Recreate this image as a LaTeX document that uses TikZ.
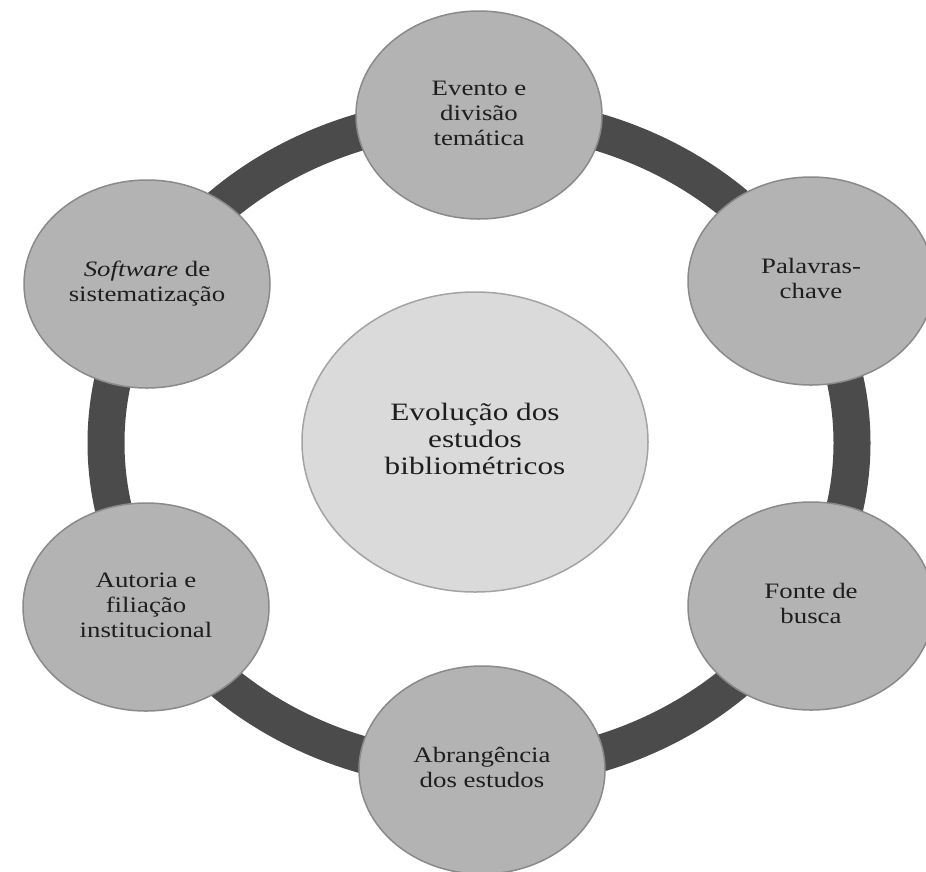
\documentclass[tikz,border=0pt]{standalone}
\usepackage{fontspec}
\usepackage{graphicx}
\setmainfont{Liberation Serif}
\usetikzlibrary{shapes.geometric}

\definecolor{ringcol}{HTML}{4B4B4B}
\definecolor{topicfill}{HTML}{B3B3B3}
\definecolor{topicedge}{HTML}{8A8A8A}
\definecolor{hubfill}{HTML}{DADADA}
\definecolor{hubedge}{HTML}{A3A3A3}
\definecolor{textcol}{HTML}{1E1E1E}

% widened, centred multi-line label
\newcommand\widelabel[2]{\scalebox{#1}[1]{\begin{tabular}{@{}c@{}}#2\end{tabular}}}

\begin{document}
\begin{tikzpicture}[x=1pt,y=-1pt,
  topic/.style={ellipse, draw=topicedge, line width=1.5pt, fill=topicfill,
    minimum width=246pt, minimum height=208pt, inner sep=0pt,
    font=\fontsize{22}{25}\selectfont, text=textcol},
  hub/.style={ellipse, draw=hubedge, line width=1.5pt, fill=hubfill,
    minimum width=346pt, minimum height=300pt, inner sep=0pt,
    font=\fontsize{25}{27}\selectfont, text=textcol},
  ring/.style={draw=ringcol, line width=37pt}]
\useasboundingbox (0,0) rectangle (926,871);
\clip (0,0) rectangle (926,871);

% the surrounding cycle
\coordinate (c) at (479,443);
\draw[ring] (c) ellipse [x radius=373pt, y radius=328pt];

% central theme
\node[hub] (hub) at (475,442)
  {\widelabel{1.25}{Evolução dos\\estudos\\bibliométricos}};

% aspects around the cycle
\node[topic] (evento) at (479,115)
  {\widelabel{1.22}{Evento e\\divisão\\temática}};
\node[topic] (palavras) at (811,281)
  {\widelabel{1.22}{Palavras-\\chave}};
\node[topic] (fonte) at (811,606)
  {\widelabel{1.22}{Fonte de\\busca}};
\node[topic] (abrangencia) at (482,770)
  {\widelabel{1.22}{Abrangência\\dos estudos}};
\node[topic] (autoria) at (146,607)
  {\widelabel{1.22}{Autoria e\\filiação\\institucional}};
\node[topic] (software) at (147,284)
  {\widelabel{1.22}{\textit{Software} de\\sistematização}};
\end{tikzpicture}
\end{document}
